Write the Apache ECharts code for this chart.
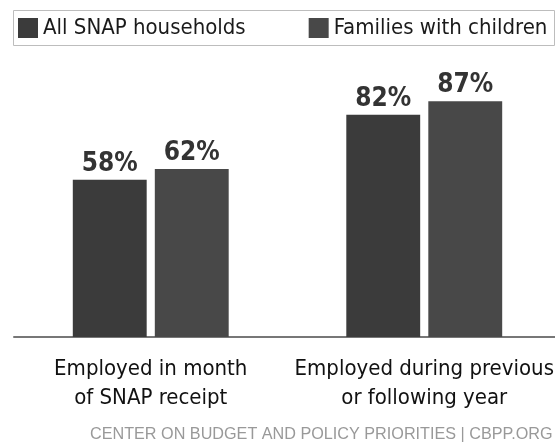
<!DOCTYPE html>
<html>
<head>
<meta charset="utf-8">
<script src="https://cdn.jsdelivr.net/npm/echarts@6/dist/echarts.min.js"></script>
<style>
  html, body { margin: 0; padding: 0; background: #fff; }
  #chart { width: 555px; height: 445px; }
</style>
</head>
<body>
<div id="chart"></div>
<script>
// Share of SNAP households with earnings
const categories = ['Employed in month\nof SNAP receipt', 'Employed during previous\nor following year'];
const seriesNames = ['All SNAP households', 'Families with children'];
const allSnap = [58, 82];
const familiesWithChildren = [62, 87];
const seriesColors = ['#3b3b3b', '#484848'];
const sourceText = 'CENTER ON BUDGET AND POLICY PRIORITIES | CBPP.ORG';

const condensed = '"DejaVu Sans Condensed", "Liberation Sans", sans-serif';

const chart = echarts.init(document.getElementById('chart'), null, { renderer: 'canvas' });

const valueLabel = {
  show: true,
  position: 'top',
  distance: 3,
  formatter: p => p.value + '%',
  fontFamily: condensed,
  fontWeight: 'bold',
  fontSize: 26,
  color: '#333'
};

chart.setOption({
  animation: false,
  backgroundColor: '#fff',
  color: seriesColors,
  legend: {
    data: seriesNames,
    left: 11,
    top: 8,
    width: 600,
    padding: [9, 7, 6, 7],
    itemWidth: 20,
    itemHeight: 20,
    itemGap: 63,
    icon: 'rect',
    textStyle: { fontFamily: condensed, fontSize: 22, color: '#1a1a1a' }
  },
  graphic: [
    {
      type: 'rect',
      left: 11, top: 8,
      shape: { width: 541, height: 35 },
      style: { fill: 'none', stroke: '#bdbdbd', lineWidth: 1 },
      silent: true
    },
    {
      type: 'text',
      left: 90, top: 427,
      style: { text: sourceText, fontFamily: '"Liberation Sans", sans-serif', fontSize: 16.2, fill: '#999' }
    }
  ],
  grid: { left: 14, width: 547, top: 66, bottom: 108, outerBoundsMode: 'none', containLabel: false },
  xAxis: {
    type: 'category',
    data: categories,
    axisTick: { show: false },
    axisLine: { lineStyle: { color: '#777', width: 2 } },
    axisLabel: {
      margin: 18,
      fontFamily: condensed,
      fontSize: 22,
      lineHeight: 29,
      color: '#111',
      interval: 0
    }
  },
  yAxis: { type: 'value', min: 0, max: 100, show: false, splitLine: { show: false } },
  series: [
    {
      name: seriesNames[0], type: 'bar', data: allSnap,
      barGap: '11%', barCategoryGap: '43%',
      itemStyle: { color: seriesColors[0] },
      label: valueLabel
    },
    {
      name: seriesNames[1], type: 'bar', data: familiesWithChildren,
      itemStyle: { color: seriesColors[1] },
      label: valueLabel
    }
  ]
});
</script>
</body>
</html>
